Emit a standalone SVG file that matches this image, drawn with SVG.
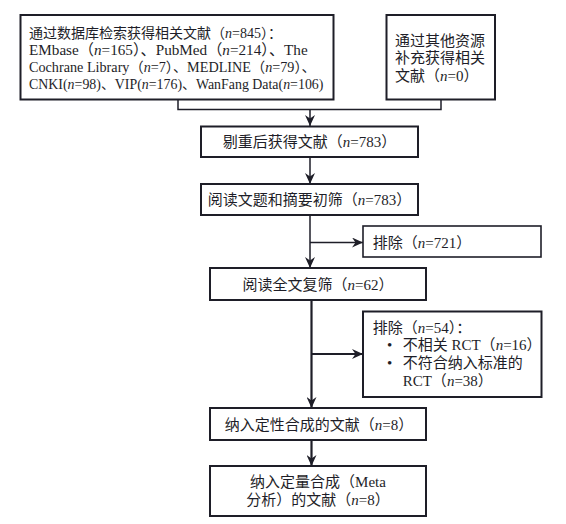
<svg xmlns="http://www.w3.org/2000/svg" width="566" height="524" viewBox="0 0 566 524">
<style>
  .box { fill: #ffffff; stroke: #1e1e28; stroke-width: 2; }
  .t { font-family: "Liberation Serif", "Noto Sans CJK SC", serif; font-size: 15px; fill: #1e1e28; }
  .i { font-style: italic; }
  .c { fill: none; stroke: #1e1e28; stroke-width: 1.5; }
  .c2 { fill: none; stroke: #1e1e28; stroke-width: 2.2; }
</style>
<defs>
  <marker id="ah" markerUnits="userSpaceOnUse" markerWidth="11" markerHeight="10" refX="11" refY="5" orient="auto">
    <path d="M0,0 L11,5 L0,10 L3.5,5 z" fill="#1e1e28"/>
  </marker>
</defs>
<rect width="566" height="524" fill="#ffffff"/>

<g id="connectors">
  <path class="c" d="M178,99.5 V109.5 H441 V99.5"/>
  <line class="c" x1="310" y1="109.5" x2="310" y2="126" marker-end="url(#ah)"/>
  <line class="c" x1="310" y1="157" x2="310" y2="184" marker-end="url(#ah)"/>
  <line class="c" x1="310" y1="215" x2="310" y2="268" marker-end="url(#ah)"/>
  <line class="c" x1="310" y1="242.5" x2="363" y2="242.5" marker-end="url(#ah)"/>
  <line class="c2" x1="311.5" y1="300" x2="311.5" y2="408" marker-end="url(#ah)"/>
  <line class="c2" x1="311.5" y1="354" x2="363" y2="354" marker-end="url(#ah)"/>
  <line class="c2" x1="311.5" y1="440" x2="311.5" y2="466" marker-end="url(#ah)"/>
</g>

<g id="n1">
  <rect class="box" x="20.5" y="15" width="313" height="84.5"/>
  <text class="t" x="29" y="37.5" style="font-size:14px">通过数据库检索获得相关文献（<tspan class="i">n</tspan>=845）：</text>
  <text class="t" x="29" y="54.5" style="font-size:15.2px">EMbase（<tspan class="i">n</tspan>=165）、PubMed（<tspan class="i">n</tspan>=214）、The</text>
  <text class="t" x="29" y="71.5" style="font-size:14.2px">Cochrane Library（<tspan class="i">n</tspan>=7）、MEDLINE（<tspan class="i">n</tspan>=79）、</text>
  <text class="t" x="29" y="88.5" style="font-size:13.9px">CNKI(<tspan class="i">n</tspan>=98)、VIP(<tspan class="i">n</tspan>=176)、WanFang Data(<tspan class="i">n</tspan>=106)</text>
</g>

<g id="n2">
  <rect class="box" x="386.5" y="15" width="108.5" height="84.5"/>
  <text class="t" x="395" y="45.5">通过其他资源</text>
  <text class="t" x="395" y="63">补充获得相关</text>
  <text class="t" x="395" y="80.5">文献（<tspan class="i">n</tspan>=0）</text>
</g>

<g id="n3">
  <rect class="box" x="201" y="126.5" width="217" height="30.5"/>
  <text class="t" x="309.5" y="147" text-anchor="middle">剔重后获得文献（<tspan class="i">n</tspan>=783）</text>
</g>

<g id="n4">
  <rect class="box" x="201" y="184" width="217" height="31"/>
  <text class="t" x="309.5" y="205" text-anchor="middle">阅读文题和摘要初筛（<tspan class="i">n</tspan>=783）</text>
</g>

<g id="n5">
  <rect class="box" x="363" y="226" width="178" height="31" style="stroke-width:1.6"/>
  <text class="t" x="372.7" y="248">排除（<tspan class="i">n</tspan>=721）</text>
</g>

<g id="n6">
  <rect class="box" x="210" y="268" width="216" height="32"/>
  <text class="t" x="318" y="289.5" text-anchor="middle">阅读全文复筛（<tspan class="i">n</tspan>=62）</text>
</g>

<g id="n7">
  <rect class="box" x="363" y="311.5" width="178.5" height="85.5"/>
  <text class="t" x="372.7" y="333">排除（<tspan class="i">n</tspan>=54）：</text>
  <text class="t" x="387" y="350">•</text>
  <text class="t" x="402.7" y="350">不相关 RCT（<tspan class="i">n</tspan>=16）</text>
  <text class="t" x="387" y="368">•</text>
  <text class="t" x="402.7" y="368">不符合纳入标准的</text>
  <text class="t" x="402.7" y="386">RCT（<tspan class="i">n</tspan>=38）</text>
</g>

<g id="n8">
  <rect class="box" x="210" y="408" width="216" height="32"/>
  <text class="t" x="319" y="430" text-anchor="middle">纳入定性合成的文献（<tspan class="i">n</tspan>=8）</text>
</g>

<g id="n9">
  <rect class="box" x="210" y="466" width="216" height="50"/>
  <text class="t" x="318" y="487" text-anchor="middle">纳入定量合成（Meta</text>
  <text class="t" x="318" y="505" text-anchor="middle">分析）的文献（<tspan class="i">n</tspan>=8）</text>
</g>
</svg>
